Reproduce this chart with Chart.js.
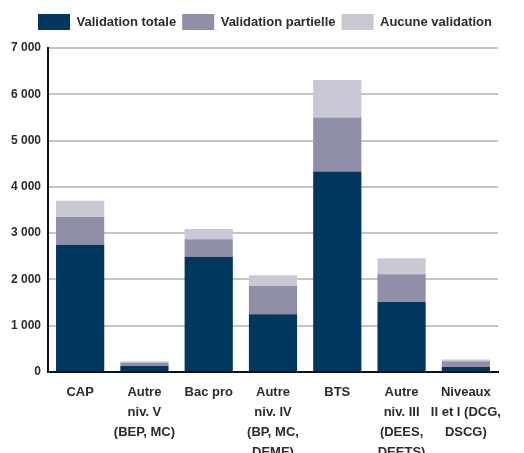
<!DOCTYPE html>
<html>
<head>
<meta charset="utf-8">
<script src="https://cdn.jsdelivr.net/npm/chart.js@4"></script>
<style>
  body { margin: 0; background: #fff; }
</style>
</head>
<body>
<canvas id="chart" width="524" height="453"></canvas>
<script>
// niveaux de diplôme
const categories = [
    ["CAP"],
    ["Autre", "niv. V", "(BEP, MC)"],
    ["Bac pro"],
    ["Autre", "niv. IV", "(BP, MC,", "DEME)"],
    ["BTS"],
    ["Autre", "niv. III", "(DEES,", "DEETS)"],
    ["Niveaux", "II et I (DCG,", "DSCG)"]
];
const validationTotale = [2750, 130, 2490, 1250, 4330, 1510, 110];
const validationPartielle = [600, 70, 380, 610, 1170, 600, 120];
const aucuneValidation = [350, 30, 220, 230, 810, 350, 40];
const yTicks = [0, 1000, 2000, 3000, 4000, 5000, 6000, 7000];

const font = "'Liberation Sans Narrow', 'Liberation Sans', sans-serif";
const textColor = "#2e2a2a";

const fmt = v => String(v).replace(/\B(?=(\d{3})+(?!\d))/g, " ");

// push the plot down a bit under the legend
const legendGap = {
    id: "legendGap",
    beforeInit(chart) {
        const origFit = chart.legend.fit;
        chart.legend.fit = function () {
            origFit.bind(chart.legend)();
            this.height += 8;
        };
    }
};

new Chart(document.getElementById("chart"), {
    type: "bar",
    data: {
        labels: categories,
        datasets: [
            { label: "Validation totale", data: validationTotale, backgroundColor: "#00375e" },
            { label: "Validation partielle", data: validationPartielle, backgroundColor: "#8f90a8" },
            { label: "Aucune validation", data: aucuneValidation, backgroundColor: "#c9c9d6" }
        ]
    },
    options: {
        responsive: false,
        animation: false,
        layout: { padding: { left: 0, right: 26, top: 8, bottom: 0 } },
        datasets: {
            bar: { categoryPercentage: 1, barPercentage: 0.75, borderWidth: 0 }
        },
        plugins: {
            legend: {
                position: "top",
                align: "end",
                labels: {
                    boxWidth: 32,
                    boxHeight: 16,
                    padding: 6,
                    color: textColor,
                    font: { family: font, size: 13, weight: "bold" }
                }
            },
            tooltip: { enabled: false }
        },
        scales: {
            x: {
                stacked: true,
                grid: { display: false, drawTicks: false },
                border: { color: "#111", width: 2 },
                ticks: {
                    color: textColor,
                    padding: 10,
                    maxRotation: 0,
                    autoSkip: false,
                    font: { family: font, size: 13, weight: "bold", lineHeight: 1.55 }
                },
                afterFit: s => { s.height = 81; }
            },
            y: {
                stacked: true,
                min: 0,
                max: 7000,
                afterBuildTicks: s => { s.ticks = yTicks.map(v => ({ value: v })); },
                grid: { color: "#c4c4c4", lineWidth: 2, drawTicks: false },
                border: { color: "#111", width: 2 },
                ticks: {
                    color: textColor,
                    padding: 7,
                    font: { family: font, size: 12, weight: "bold" },
                    callback: v => fmt(v)
                },
                afterFit: s => { s.width = 48; }
            }
        }
    },
    plugins: [legendGap]
});
</script>
</body>
</html>
